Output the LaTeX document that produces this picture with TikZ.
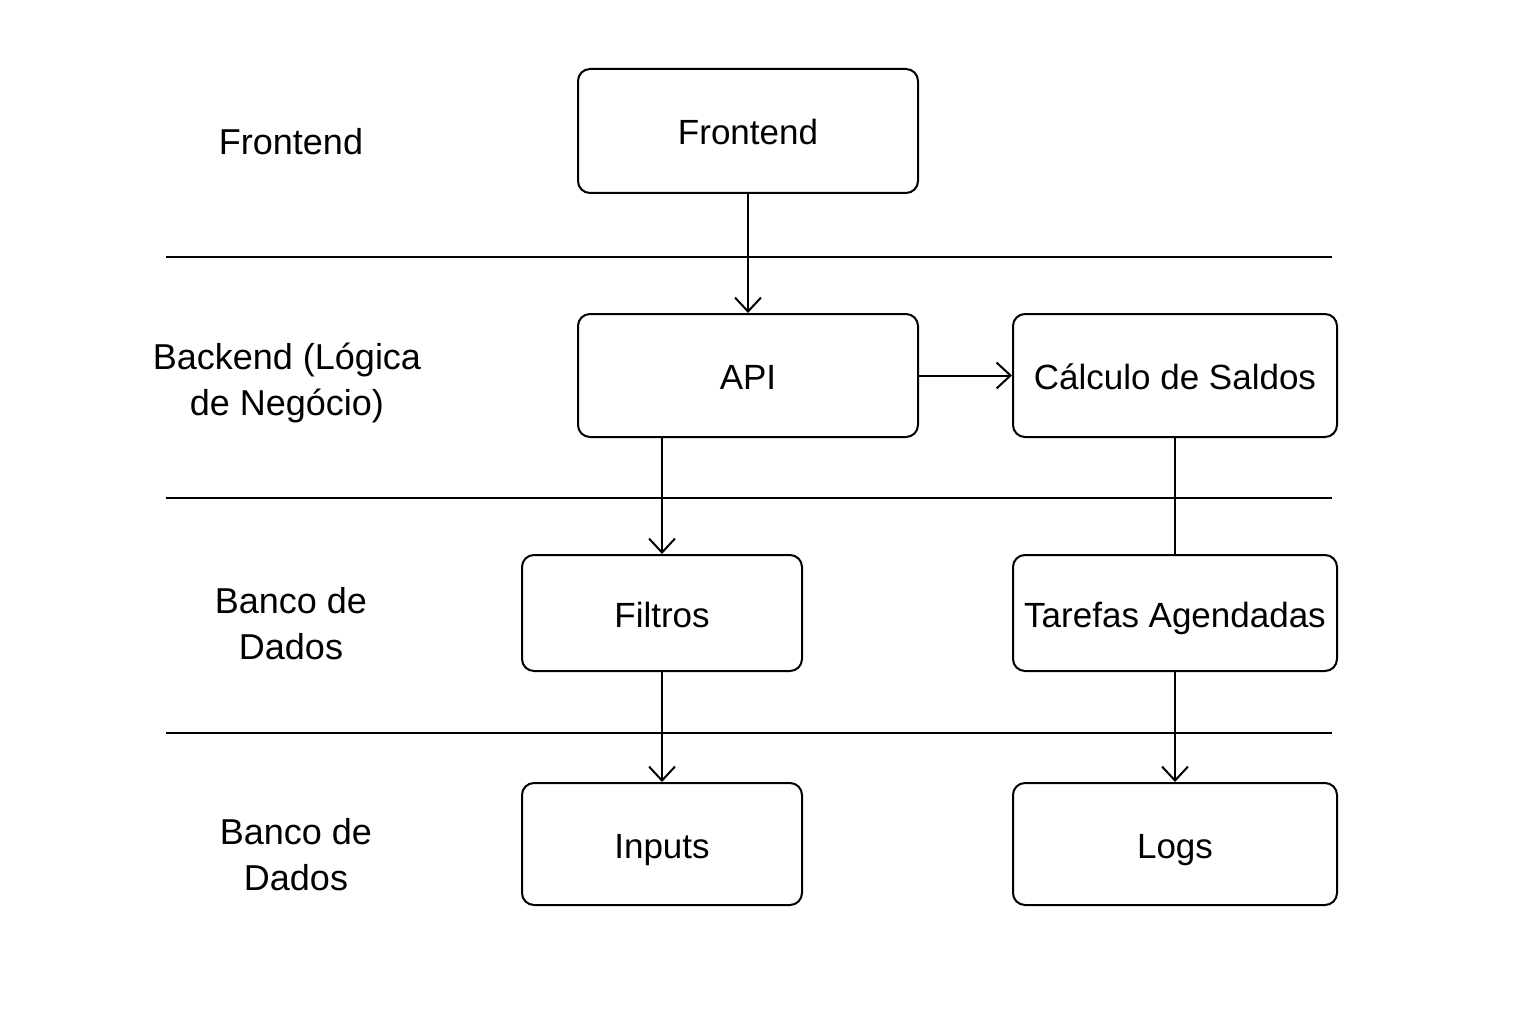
\documentclass[tikz,border=0pt]{standalone}
\usepackage{fontspec}
\setmainfont{Liberation Sans}
\usetikzlibrary{arrows.meta}
\begin{document}
\begin{tikzpicture}[x=1pt,y=-1pt,
  box/.style={draw, line width=2pt, rounded corners=12pt, font=\fontsize{35}{40}\selectfont, inner sep=0pt, text height=30pt, text depth=2pt},
  lbl/.style={font=\fontsize{36}{46}\selectfont, align=center},
  sep/.style={line width=2pt},
  arr/.style={line width=2pt, -{Straight Barb[length=14pt,width=26pt,line width=2pt]}},
  conn/.style={line width=2pt}]
\fill[white] (0,0) rectangle (1536,1024);
\useasboundingbox (0,0) rectangle (1536,1024);
% boxes
\node[box, minimum width=340pt, minimum height=124pt] (fe) at (748,131) {Frontend};
\node[box, minimum width=340pt, minimum height=123pt] (api) at (748,375.5) {API};
\node[box, minimum width=324pt, minimum height=123pt] (calc) at (1175,375.5) {Cálculo de Saldos};
\node[box, minimum width=280pt, minimum height=116pt] (filt) at (662,613) {Filtros};
\node[box, minimum width=324pt, minimum height=116pt] (tar) at (1175,613) {Tarefas Agendadas};
\node[box, minimum width=280pt, minimum height=122pt] (inp) at (662,844) {Inputs};
\node[box, minimum width=324pt, minimum height=122pt] (logs) at (1175,844) {Logs};
% separators
\coordinate (s1a) at (166,257); \coordinate (s1b) at (1332,257);
\coordinate (s2a) at (166,498); \coordinate (s2b) at (1332,498);
\coordinate (s3a) at (166,733); \coordinate (s3b) at (1332,733);
\draw[sep] (s1a) -- (s1b);
\draw[sep] (s2a) -- (s2b);
\draw[sep] (s3a) -- (s3b);
% left labels
\node[lbl] (l1) at (291,142) {Frontend};
\node[lbl] (l2) at (287,383) {Backend (Lógica\\de Negócio)};
\node[lbl] (l3) at (291,624) {Banco de\\Dados};
\node[lbl] (l4) at (296,855) {Banco de\\Dados};
% connectors
\draw[arr] (fe.south) -- (api.north);
\draw[arr] (api.south -| filt.north) -- (filt.north);
\draw[arr] (api.east) -- (calc.west);
\draw[conn] (calc.south) -- (tar.north);
\draw[arr] (filt.south) -- (inp.north);
\draw[arr] (tar.south) -- (logs.north);
\end{tikzpicture}
\end{document}
